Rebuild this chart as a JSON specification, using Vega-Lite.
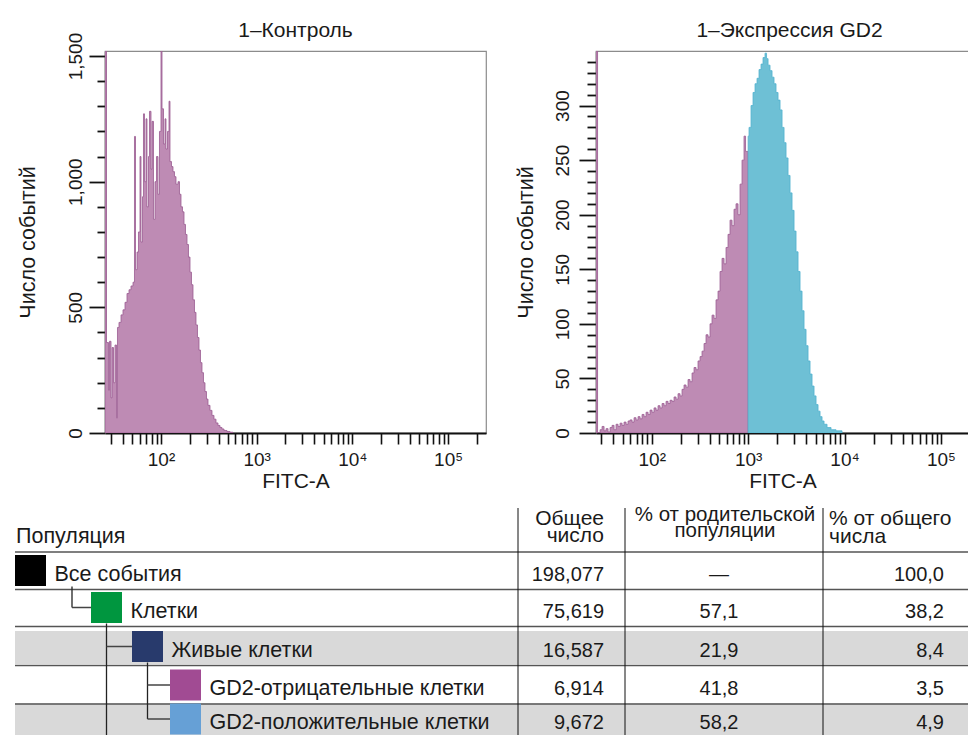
{
  "$schema": "https://vega.github.io/schema/vega-lite/v6.json",
  "padding": {"left": 14, "top": 19, "right": 0, "bottom": 0},
  "background": "white",
  "spacing": 13,
  "config": {
    "font": "Liberation Sans",
    "view": {"stroke": null},
    "locale": {"number": {"decimal": ",", "thousands": ",", "grouping": [3], "currency": ["", ""]}},
    "axis": {"labelFont": "Liberation Sans", "titleFont": "Liberation Sans", "labelColor": "#1a1a1a", "titleColor": "#1a1a1a", "titleFontWeight": "normal", "grid": false},
    "title": {"font": "Liberation Sans", "fontWeight": "normal", "fontSize": 21, "color": "#1a1a1a", "offset": 10},
    "text": {"font": "Liberation Sans", "color": "#1a1a1a"}
  },
  "vconcat": [
    {
      "spacing": 27,
      "hconcat": [
        {
          "width": 381,
          "height": 382,
          "view": {"stroke": "#8c8c8c", "strokeWidth": 1.2},
          "title": {"text": "1–Контроль", "offset": -9},
          "data": {"values": [
            {"fitc": 26.0, "count": 1520}, {"fitc": 26.96, "count": 360}, {"fitc": 28.28, "count": 170}, {"fitc": 28.97, "count": 365},
            {"fitc": 30.04, "count": 140}, {"fitc": 30.77, "count": 340}, {"fitc": 31.9, "count": 200}, {"fitc": 33.07, "count": 350},
            {"fitc": 34.29, "count": 60}, {"fitc": 35.12, "count": 420}, {"fitc": 36.41, "count": 440}, {"fitc": 38.21, "count": 470},
            {"fitc": 40.09, "count": 490}, {"fitc": 42.07, "count": 520}, {"fitc": 44.14, "count": 555}, {"fitc": 46.32, "count": 570},
            {"fitc": 48.6, "count": 585}, {"fitc": 51.0, "count": 600}, {"fitc": 52.87, "count": 1180}, {"fitc": 54.16, "count": 650},
            {"fitc": 56.15, "count": 720}, {"fitc": 58.21, "count": 800}, {"fitc": 60.35, "count": 1100}, {"fitc": 61.82, "count": 760},
            {"fitc": 64.09, "count": 940}, {"fitc": 65.65, "count": 1270}, {"fitc": 67.25, "count": 1000}, {"fitc": 69.72, "count": 1250},
            {"fitc": 71.42, "count": 900}, {"fitc": 74.05, "count": 1100}, {"fitc": 75.85, "count": 1280}, {"fitc": 78.63, "count": 1050},
            {"fitc": 80.55, "count": 1240}, {"fitc": 83.51, "count": 850}, {"fitc": 86.58, "count": 1000}, {"fitc": 89.76, "count": 1100},
            {"fitc": 93.06, "count": 950}, {"fitc": 96.48, "count": 1200}, {"fitc": 100.0, "count": 1520}, {"fitc": 102.5, "count": 1290},
            {"fitc": 106.2, "count": 1150}, {"fitc": 110.1, "count": 1250}, {"fitc": 112.8, "count": 1130}, {"fitc": 117.0, "count": 1200},
            {"fitc": 121.3, "count": 1320}, {"fitc": 124.2, "count": 1080}, {"fitc": 128.8, "count": 1060}, {"fitc": 133.5, "count": 1040},
            {"fitc": 138.4, "count": 1020}, {"fitc": 143.5, "count": 990}, {"fitc": 150.6, "count": 1000}, {"fitc": 156.1, "count": 950},
            {"fitc": 161.8, "count": 900}, {"fitc": 167.8, "count": 880}, {"fitc": 174.0, "count": 830}, {"fitc": 180.3, "count": 790},
            {"fitc": 187.0, "count": 750}, {"fitc": 193.8, "count": 700}, {"fitc": 201.0, "count": 640}, {"fitc": 208.3, "count": 590},
            {"fitc": 216.0, "count": 530}, {"fitc": 223.9, "count": 480}, {"fitc": 232.2, "count": 430}, {"fitc": 240.7, "count": 380},
            {"fitc": 249.5, "count": 330}, {"fitc": 258.7, "count": 280}, {"fitc": 268.2, "count": 240}, {"fitc": 278.1, "count": 200},
            {"fitc": 288.3, "count": 165}, {"fitc": 298.9, "count": 135}, {"fitc": 309.9, "count": 110}, {"fitc": 325.2, "count": 90},
            {"fitc": 341.2, "count": 70}, {"fitc": 358.0, "count": 55}, {"fitc": 375.6, "count": 40}, {"fitc": 394.2, "count": 30},
            {"fitc": 413.6, "count": 22}, {"fitc": 434.0, "count": 16}, {"fitc": 455.4, "count": 10}, {"fitc": 489.5, "count": 6},
            {"fitc": 526.2, "count": 3}, {"fitc": 565.5, "count": 0}
          ]},
          "mark": {"type": "area", "interpolate": "step-after", "fill": "#be8bb4", "stroke": "#9a5c92", "strokeWidth": 0.8, "clip": true},
          "encoding": {
            "x": {
              "field": "fitc", "type": "quantitative", "title": "FITC-A",
              "scale": {"type": "log", "domain": [26, 249000], "nice": false},
              "axis": {
                "values": [30,40,50,60,70,80,90,100,200,300,400,500,600,700,800,900,1000,2000,3000,4000,5000,6000,7000,8000,9000,10000,20000,30000,40000,50000,60000,70000,80000,90000,100000,200000],
                "labelExpr": "datum.value === 100 ? '10²' : datum.value === 1000 ? '10³' : datum.value === 10000 ? '10⁴' : datum.value === 100000 ? '10⁵' : ''",
                "labelOverlap": false, "labelFlush": false, "labelFontSize": 19, "labelPadding": 6,
                "tickSize": 11, "tickWidth": 1.6, "tickColor": "#111",
                "domainColor": "#111", "domainWidth": 2,
                "titleFontSize": 21, "titlePadding": 1
              }
            },
            "y": {
              "field": "count", "type": "quantitative", "title": "Число событий",
              "scale": {"domain": [0, 1520], "nice": false},
              "axis": {
                "values": [0,100,200,300,400,500,600,700,800,900,1000,1100,1200,1300,1400,1500],
                "labelExpr": "datum.value % 500 === 0 ? format(datum.value, ',') : ''",
                "labelAngle": 270, "labelAlign": "center", "labelBaseline": "bottom",
                "labelFontSize": 19, "labelPadding": 4, "labelOverlap": false,
                "tickSize": {"condition": {"test": "datum.value % 500 === 0", "value": 16}, "value": 8},
                "tickWidth": 1.8, "tickColor": "#111",
                "domainColor": "#555", "domainWidth": 1.5,
                "titleFontSize": 21.5, "titlePadding": 27
              }
            }
          }
        },
        {
          "width": 373,
          "height": 382,
          "view": {"stroke": "#8c8c8c", "strokeWidth": 1.2},
          "title": {"text": "1–Экспрессия GD2", "dx": 7},
          "data": {"values": [
            {"gate": "neg", "fitc": 26.4, "count": 350}, {"gate": "neg", "fitc": 27.4, "count": 0}, {"gate": "neg", "fitc": 29.09, "count": 3},
            {"gate": "neg", "fitc": 30.51, "count": 6}, {"gate": "neg", "fitc": 32.0, "count": 2}, {"gate": "neg", "fitc": 33.57, "count": 4},
            {"gate": "neg", "fitc": 35.21, "count": 1}, {"gate": "neg", "fitc": 36.94, "count": 5}, {"gate": "neg", "fitc": 38.74, "count": 7},
            {"gate": "neg", "fitc": 40.64, "count": 3}, {"gate": "neg", "fitc": 42.63, "count": 8}, {"gate": "neg", "fitc": 44.71, "count": 6},
            {"gate": "neg", "fitc": 46.9, "count": 9}, {"gate": "neg", "fitc": 49.19, "count": 7}, {"gate": "neg", "fitc": 51.6, "count": 10},
            {"gate": "neg", "fitc": 54.13, "count": 8}, {"gate": "neg", "fitc": 56.78, "count": 11}, {"gate": "neg", "fitc": 59.56, "count": 12},
            {"gate": "neg", "fitc": 62.46, "count": 10}, {"gate": "neg", "fitc": 65.52, "count": 14}, {"gate": "neg", "fitc": 68.73, "count": 12},
            {"gate": "neg", "fitc": 72.09, "count": 15}, {"gate": "neg", "fitc": 75.62, "count": 13}, {"gate": "neg", "fitc": 79.32, "count": 17},
            {"gate": "neg", "fitc": 83.2, "count": 15}, {"gate": "neg", "fitc": 87.27, "count": 19}, {"gate": "neg", "fitc": 91.54, "count": 17},
            {"gate": "neg", "fitc": 96.02, "count": 21}, {"gate": "neg", "fitc": 100.7, "count": 19}, {"gate": "neg", "fitc": 105.6, "count": 23},
            {"gate": "neg", "fitc": 110.8, "count": 21}, {"gate": "neg", "fitc": 116.2, "count": 25}, {"gate": "neg", "fitc": 121.9, "count": 23},
            {"gate": "neg", "fitc": 127.9, "count": 27}, {"gate": "neg", "fitc": 134.2, "count": 25}, {"gate": "neg", "fitc": 140.7, "count": 29},
            {"gate": "neg", "fitc": 147.6, "count": 27}, {"gate": "neg", "fitc": 154.8, "count": 30}, {"gate": "neg", "fitc": 162.4, "count": 29},
            {"gate": "neg", "fitc": 170.4, "count": 33}, {"gate": "neg", "fitc": 178.7, "count": 31}, {"gate": "neg", "fitc": 187.4, "count": 36},
            {"gate": "neg", "fitc": 196.6, "count": 34}, {"gate": "neg", "fitc": 206.2, "count": 40}, {"gate": "neg", "fitc": 216.3, "count": 44},
            {"gate": "neg", "fitc": 226.9, "count": 42}, {"gate": "neg", "fitc": 238.0, "count": 49}, {"gate": "neg", "fitc": 249.6, "count": 47},
            {"gate": "neg", "fitc": 261.9, "count": 55}, {"gate": "neg", "fitc": 274.7, "count": 60}, {"gate": "neg", "fitc": 288.1, "count": 58},
            {"gate": "neg", "fitc": 302.2, "count": 66}, {"gate": "neg", "fitc": 317.0, "count": 70}, {"gate": "neg", "fitc": 332.5, "count": 75},
            {"gate": "neg", "fitc": 348.8, "count": 82}, {"gate": "neg", "fitc": 365.8, "count": 90}, {"gate": "neg", "fitc": 383.7, "count": 88},
            {"gate": "neg", "fitc": 402.5, "count": 100}, {"gate": "neg", "fitc": 422.2, "count": 108}, {"gate": "neg", "fitc": 442.9, "count": 105},
            {"gate": "neg", "fitc": 464.5, "count": 122}, {"gate": "neg", "fitc": 487.3, "count": 130}, {"gate": "neg", "fitc": 511.1, "count": 148},
            {"gate": "neg", "fitc": 536.1, "count": 160}, {"gate": "neg", "fitc": 562.4, "count": 155}, {"gate": "neg", "fitc": 589.9, "count": 170},
            {"gate": "neg", "fitc": 618.7, "count": 182}, {"gate": "neg", "fitc": 649.0, "count": 195}, {"gate": "neg", "fitc": 680.8, "count": 190},
            {"gate": "neg", "fitc": 714.1, "count": 205}, {"gate": "neg", "fitc": 749.0, "count": 210}, {"gate": "neg", "fitc": 785.7, "count": 200},
            {"gate": "neg", "fitc": 824.1, "count": 228}, {"gate": "neg", "fitc": 864.4, "count": 250}, {"gate": "neg", "fitc": 906.7, "count": 272},
            {"gate": "neg", "fitc": 939.8, "count": 258}, {"gate": "neg", "fitc": 1000, "count": 0},
            {"gate": "pos", "fitc": 1000, "count": 272}, {"gate": "pos", "fitc": 1021.8, "count": 280}, {"gate": "pos", "fitc": 1071.8, "count": 300},
            {"gate": "pos", "fitc": 1124, "count": 312}, {"gate": "pos", "fitc": 1179, "count": 320}, {"gate": "pos", "fitc": 1237, "count": 325},
            {"gate": "pos", "fitc": 1297, "count": 333}, {"gate": "pos", "fitc": 1361, "count": 338}, {"gate": "pos", "fitc": 1427, "count": 344},
            {"gate": "pos", "fitc": 1497, "count": 348}, {"gate": "pos", "fitc": 1552, "count": 343}, {"gate": "pos", "fitc": 1609, "count": 337},
            {"gate": "pos", "fitc": 1687, "count": 332}, {"gate": "pos", "fitc": 1770, "count": 326}, {"gate": "pos", "fitc": 1856, "count": 320},
            {"gate": "pos", "fitc": 1947, "count": 312}, {"gate": "pos", "fitc": 2043, "count": 305}, {"gate": "pos", "fitc": 2143, "count": 296},
            {"gate": "pos", "fitc": 2248, "count": 280}, {"gate": "pos", "fitc": 2358, "count": 266}, {"gate": "pos", "fitc": 2473, "count": 252},
            {"gate": "pos", "fitc": 2594, "count": 236}, {"gate": "pos", "fitc": 2721, "count": 220}, {"gate": "pos", "fitc": 2854, "count": 204},
            {"gate": "pos", "fitc": 2994, "count": 185}, {"gate": "pos", "fitc": 3140, "count": 166}, {"gate": "pos", "fitc": 3294, "count": 148},
            {"gate": "pos", "fitc": 3455, "count": 130}, {"gate": "pos", "fitc": 3624, "count": 112}, {"gate": "pos", "fitc": 3801, "count": 95},
            {"gate": "pos", "fitc": 3987, "count": 80}, {"gate": "pos", "fitc": 4182, "count": 66}, {"gate": "pos", "fitc": 4387, "count": 54},
            {"gate": "pos", "fitc": 4602, "count": 43}, {"gate": "pos", "fitc": 4827, "count": 34}, {"gate": "pos", "fitc": 5063, "count": 26},
            {"gate": "pos", "fitc": 5311, "count": 20}, {"gate": "pos", "fitc": 5571, "count": 15}, {"gate": "pos", "fitc": 5843, "count": 11},
            {"gate": "pos", "fitc": 6129, "count": 8}, {"gate": "pos", "fitc": 6585, "count": 5}, {"gate": "pos", "fitc": 7245, "count": 3},
            {"gate": "pos", "fitc": 8164, "count": 2}, {"gate": "pos", "fitc": 9420, "count": 0}
          ]},
          "mark": {"type": "area", "interpolate": "step-after", "strokeWidth": 0.8, "clip": true, "fillOpacity": 1},
          "encoding": {
            "x": {
              "field": "fitc", "type": "quantitative", "title": "FITC-A",
              "scale": {"type": "log", "domain": [26.4, 195600], "nice": false},
              "axis": {
                "values": [30,40,50,60,70,80,90,100,200,300,400,500,600,700,800,900,1000,2000,3000,4000,5000,6000,7000,8000,9000,10000,20000,30000,40000,50000,60000,70000,80000,90000,100000],
                "labelExpr": "datum.value === 100 ? '10²' : datum.value === 1000 ? '10³' : datum.value === 10000 ? '10⁴' : datum.value === 100000 ? '10⁵' : ''",
                "labelOverlap": false, "labelFlush": false, "labelFontSize": 19, "labelPadding": 6,
                "tickSize": 11, "tickWidth": 1.6, "tickColor": "#111",
                "domainColor": "#111", "domainWidth": 2,
                "titleFontSize": 21, "titlePadding": 1
              }
            },
            "y": {
              "field": "count", "type": "quantitative", "title": "Число событий", "stack": null,
              "scale": {"domain": [0, 350], "nice": false},
              "axis": {
                "values": [0,10,20,30,40,50,60,70,80,90,100,110,120,130,140,150,160,170,180,190,200,210,220,230,240,250,260,270,280,290,300,310,320,330,340],
                "labelExpr": "datum.value % 50 === 0 ? format(datum.value, ',') : ''",
                "labelAngle": 270, "labelAlign": "center", "labelBaseline": "bottom",
                "labelFontSize": 19, "labelPadding": 7, "labelOverlap": false,
                "tickSize": {"condition": {"test": "datum.value % 50 === 0", "value": 17}, "value": 9},
                "tickWidth": 1.8, "tickColor": "#111",
                "domainColor": "#555", "domainWidth": 1.5,
                "titleFontSize": 21.5, "titlePadding": 16
              }
            },
            "fill": {"field": "gate", "type": "nominal", "scale": {"domain": ["neg", "pos"], "range": ["#be8bb4", "#6ec0d5"]}, "legend": null},
            "stroke": {"field": "gate", "type": "nominal", "scale": {"domain": ["neg", "pos"], "range": ["#9a5c92", "#52b3cf"]}, "legend": null}
          }
        }
      ]
    },
    {
      "width": 864,
      "height": 227,
      "data": {"values": [
        {"name": "Все события", "level": 0, "row": 0, "parentLevel": null, "lastChildRow": 1, "total": 198077, "pctParent": null, "pctTotal": 100.0},
        {"name": "Клетки", "level": 1, "row": 1, "parentLevel": 0, "lastChildRow": 5, "total": 75619, "pctParent": 57.1, "pctTotal": 38.2},
        {"name": "Живые клетки", "level": 2, "row": 2, "parentLevel": 1, "lastChildRow": 4, "total": 16587, "pctParent": 21.9, "pctTotal": 8.4},
        {"name": "GD2-отрицательные клетки", "level": 3, "row": 3, "parentLevel": 2, "lastChildRow": null, "total": 6914, "pctParent": 41.8, "pctTotal": 3.5},
        {"name": "GD2-положительные клетки", "level": 3, "row": 4, "parentLevel": 2, "lastChildRow": null, "total": 9672, "pctParent": 58.2, "pctTotal": 4.9}
      ]},
      "layer": [
        {
          "transform": [{"filter": "datum.row === 2 || datum.row === 4"}],
          "mark": {"type": "rect", "color": "#d9d9d9", "yOffset": -15.5, "y2Offset": 17.5},
          "encoding": {
            "x": {"datum": -1, "type": "quantitative", "axis": null, "scale": {"domain": [-1,0,1,2,3,10,11,12,13], "range": [-90,-74.5,1.5,42.5,80.5,413,520,718,864], "nice": false, "zero": false}},
            "x2": {"datum": 13},
            "y": {"field": "row", "type": "quantitative", "axis": null, "scale": {"domain": [-1.65,-0.5,0.5,1.5,2.5,3.5,4.5], "range": [0,44,81,118,159,195,227], "nice": false, "zero": false}},
            "y2": {"field": "row"}
          }
        },
        {
          "data": {"values": [{}]},
          "mark": {"type": "rule", "color": "#555", "strokeWidth": 1.5},
          "encoding": {
            "x": {"datum": -1, "type": "quantitative"},
            "x2": {"datum": 13},
            "y": {"datum": -0.5, "type": "quantitative"}
          }
        },
        {
          "transform": [{"filter": "datum.row < 4"}],
          "mark": {"type": "rule", "color": "#555", "strokeWidth": 1.5, "yOffset": 19},
          "encoding": {
            "x": {"datum": -1, "type": "quantitative"},
            "x2": {"datum": 13},
            "y": {"field": "row", "type": "quantitative"}
          }
        },
        {
          "data": {"values": [{}]},
          "mark": {"type": "rule", "color": "#111", "strokeWidth": 1},
          "encoding": {"x": {"datum": 10, "type": "quantitative"}, "y": {"datum": -1.65, "type": "quantitative"}, "y2": {"datum": 4.5}}
        },
        {
          "data": {"values": [{}]},
          "mark": {"type": "rule", "color": "#111", "strokeWidth": 1},
          "encoding": {"x": {"datum": 11, "type": "quantitative"}, "y": {"datum": -1.65, "type": "quantitative"}, "y2": {"datum": 4.5}}
        },
        {
          "data": {"values": [{}]},
          "mark": {"type": "rule", "color": "#111", "strokeWidth": 1},
          "encoding": {"x": {"datum": 12, "type": "quantitative"}, "y": {"datum": -1.65, "type": "quantitative"}, "y2": {"datum": 4.5}}
        },
        {
          "transform": [{"filter": "datum.lastChildRow != null"}],
          "mark": {"type": "rule", "color": "#222", "strokeWidth": 1.3, "xOffset": {"expr": "datum.level === 0 ? 41.5 : 0"}, "yOffset": 16},
          "encoding": {
            "x": {"field": "level", "type": "quantitative"},
            "y": {"field": "row", "type": "quantitative"},
            "y2": {"field": "lastChildRow"}
          }
        },
        {
          "transform": [{"filter": "datum.parentLevel != null"}],
          "mark": {"type": "rule", "color": "#444", "strokeWidth": 1.3, "xOffset": {"expr": "datum.parentLevel === 0 ? 41.5 : 0"}},
          "encoding": {
            "x": {"field": "parentLevel", "type": "quantitative"},
            "x2": {"field": "level"},
            "y": {"field": "row", "type": "quantitative"}
          }
        },
        {
          "mark": {"type": "point", "shape": "square", "size": 961, "filled": true, "opacity": 1, "strokeWidth": 0},
          "encoding": {
            "x": {"field": "level", "type": "quantitative"},
            "y": {"field": "row", "type": "quantitative"},
            "color": {"field": "name", "type": "nominal", "legend": null,
              "scale": {"domain": ["Все события", "Клетки", "Живые клетки", "GD2-отрицательные клетки", "GD2-положительные клетки"], "range": ["#000000", "#00963f", "#283a6c", "#a14b93", "#66a0d6"]}}
          }
        },
        {
          "mark": {"type": "text", "align": "left", "baseline": "alphabetic", "dx": 24, "dy": 10, "fontSize": 21.5},
          "encoding": {
            "x": {"field": "level", "type": "quantitative"},
            "y": {"field": "row", "type": "quantitative"},
            "text": {"field": "name"}
          }
        },
        {
          "mark": {"type": "text", "align": "right", "baseline": "alphabetic", "dx": -21, "dy": 10, "fontSize": 20},
          "encoding": {
            "x": {"datum": 11, "type": "quantitative"},
            "y": {"field": "row", "type": "quantitative"},
            "text": {"field": "total", "type": "quantitative", "format": ","}
          }
        },
        {
          "mark": {"type": "text", "align": "center", "baseline": "alphabetic", "dx": -5, "dy": 10, "fontSize": 20},
          "encoding": {
            "x": {"datum": 11.5, "type": "quantitative"},
            "y": {"field": "row", "type": "quantitative"},
            "text": {"condition": {"test": "datum.pctParent == null", "value": "—"}, "field": "pctParent", "type": "quantitative", "format": ".1f"}
          }
        },
        {
          "mark": {"type": "text", "align": "right", "baseline": "alphabetic", "dx": -25, "dy": 10, "fontSize": 20},
          "encoding": {
            "x": {"datum": 13, "type": "quantitative"},
            "y": {"field": "row", "type": "quantitative"},
            "text": {"field": "pctTotal", "type": "quantitative", "format": ".1f"}
          }
        },
        {
          "data": {"values": [{}]},
          "mark": {"type": "text", "align": "left", "baseline": "alphabetic", "dx": 1, "dy": -9, "fontSize": 21.5},
          "encoding": {"x": {"datum": -1, "type": "quantitative"}, "y": {"datum": -0.5, "type": "quantitative"}, "text": {"value": "Популяция"}}
        },
        {
          "data": {"values": [{}]},
          "mark": {"type": "text", "align": "right", "baseline": "alphabetic", "dx": -21, "dy": -27, "fontSize": 21, "lineBreak": "\n", "lineHeight": 17},
          "encoding": {"x": {"datum": 11, "type": "quantitative"}, "y": {"datum": -0.5, "type": "quantitative"}, "text": {"value": "Общее\nчисло"}}
        },
        {
          "data": {"values": [{}]},
          "mark": {"type": "text", "align": "center", "baseline": "alphabetic", "dx": 1, "dy": -31, "fontSize": 20.5, "lineBreak": "\n", "lineHeight": 16},
          "encoding": {"x": {"datum": 11.5, "type": "quantitative"}, "y": {"datum": -0.5, "type": "quantitative"}, "text": {"value": "% от родительской\nпопуляции"}}
        },
        {
          "data": {"values": [{}]},
          "mark": {"type": "text", "align": "left", "baseline": "alphabetic", "dx": 6, "dy": -27, "fontSize": 21, "lineBreak": "\n", "lineHeight": 18},
          "encoding": {"x": {"datum": 12, "type": "quantitative"}, "y": {"datum": -0.5, "type": "quantitative"}, "text": {"value": "% от общего\nчисла"}}
        }
      ]
    }
  ]
}
